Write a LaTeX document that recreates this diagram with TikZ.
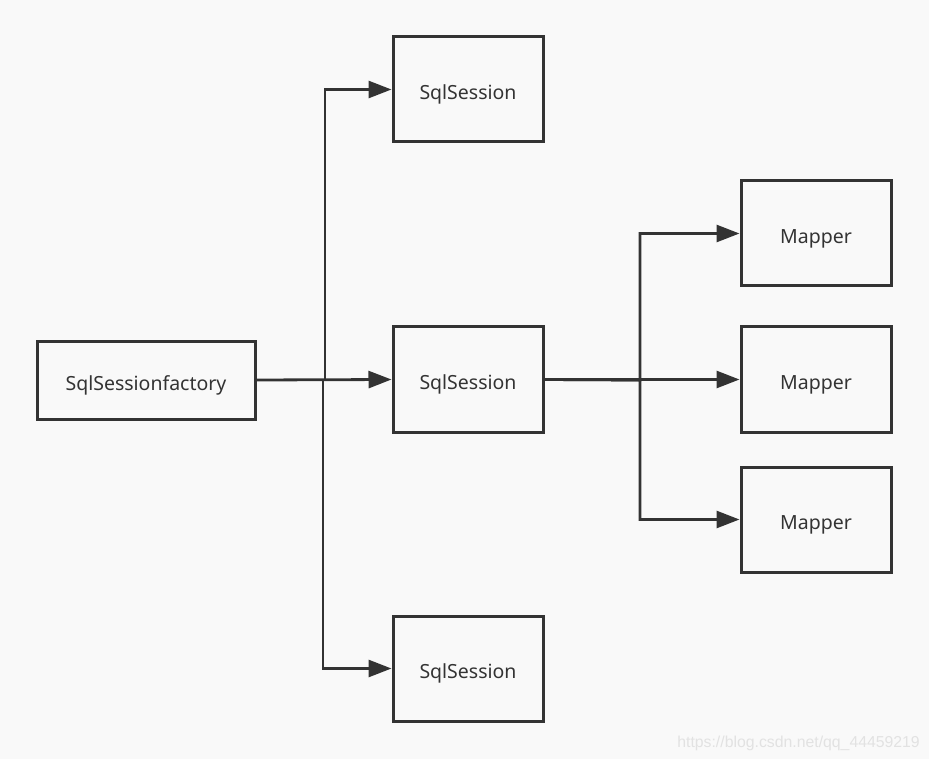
\documentclass[tikz,border=0pt]{standalone}
\usepackage{fontspec}
\setmainfont{Noto Sans}
\newfontfamily\wmfont{Liberation Sans}
\usetikzlibrary{arrows.meta}
\definecolor{bg}{HTML}{F9F9F9}
\definecolor{ink}{HTML}{333333}
\definecolor{wm}{HTML}{E2E2E2}
\tikzset{
  box/.style={draw=ink, line width=3pt, fill=bg, minimum width=150pt, minimum height=105pt, inner sep=0pt, text=ink, text height=24pt, text depth=4pt, font=\fontsize{19.5}{22}\selectfont},
  conn/.style={draw=ink, line width=2.8pt, -{Triangle[length=23pt,width=17pt]}},
}
\begin{document}
\begin{tikzpicture}[x=1pt,y=-1pt]
\fill[bg] (0,0) rectangle (929,759);
\useasboundingbox (0,0) rectangle (929,759);
\node[box, minimum width=218pt, minimum height=78pt] (f) at (146,380) {SqlSessionfactory};
\node[box] (s1) at (468,89.5) {SqlSession};
\node[box] (s2) at (468,379.5) {SqlSession};
\node[box] (s3) at (468,668.5) {SqlSession};
\node[box] (m1) at (816,233.5) {Mapper};
\node[box] (m2) at (816,379.5) {Mapper};
\node[box] (m3) at (816,519.5) {Mapper};
\coordinate (ja) at (325,380);
\coordinate (jb) at (323,380);
\coordinate (jc) at (640,380);
\draw[conn] (f.east) -- (ja) |- (s1.west);
\draw[conn] (f.east) -- (s2.west);
\draw[conn] (f.east) -- (jb) |- (s3.west);
\draw[conn] (s2.east) -- (jc) |- (m1.west);
\draw[conn] (s2.east) -- (m2.west);
\draw[conn] (s2.east) -- (jc) |- (m3.west);
\node[text=wm, font=\wmfont\fontsize{15.8}{18}\selectfont, anchor=base east, inner sep=0pt] (wmk) at (920,747) {https://blog.csdn.net/qq\_44459219};
\end{tikzpicture}
\end{document}
